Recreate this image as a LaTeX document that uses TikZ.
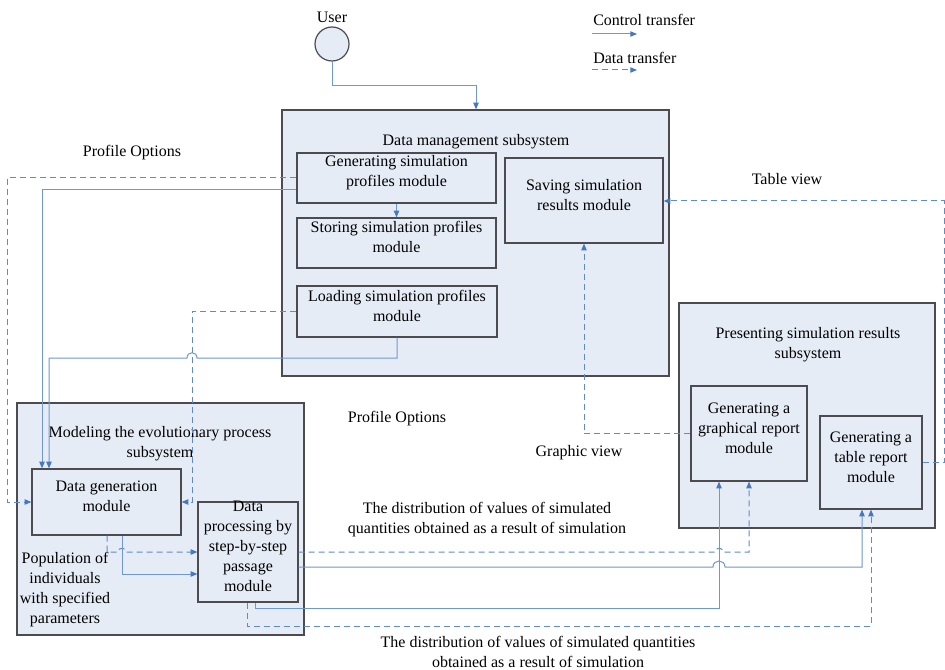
\documentclass[tikz,border=0pt]{standalone}
\usepackage{fontspec}
\setmainfont{Liberation Serif}
\usetikzlibrary{arrows.meta,fit,calc}
\definecolor{bfill}{RGB}{230,236,246}
\definecolor{bdraw}{RGB}{75,75,80}
\definecolor{lnc}{RGB}{112,152,208}
\definecolor{dsc}{RGB}{96,138,200}
\definecolor{tipc}{RGB}{70,120,190}
\begin{document}
\begin{tikzpicture}[x=0.75pt,y=-0.75pt,
  every node/.style={font=\fontsize{12}{15}\selectfont, text=black},
  box/.style={draw=bdraw, fill=bfill, line width=0.9pt, inner sep=0pt, align=center},
  lbl/.style={align=center, inner sep=0pt},
  ctl/.style={draw=lnc, line width=0.75pt, -{Triangle[length=5pt,width=4pt,color=tipc]}},
  dat/.style={draw=dsc, line width=0.75pt, dash pattern=on 4.5pt off 3pt, -{Triangle[length=5pt,width=4pt,color=tipc]}}
]
\useasboundingbox (0,0) rectangle (945,670);
\fill[white] (0,0) rectangle (945,670);

% subsystem boxes
\node[box, fit={(282,110) (669,376)}] (dm) {};
\node[box, fit={(17,403) (304,635)}] (mod) {};
\node[box, fit={(679,303) (935,528)}] (pres) {};

\node[lbl] (dmt) at (476,142) {Data management subsystem};
\node[lbl] (modt) at (160,443.5) {Modeling the evolutionary process\\subsystem};
\node[lbl] (prest) at (808,344.5) {Presenting simulation results\\subsystem};

% user
\node[circle, draw=bdraw, fill=bfill, line width=0.9pt, minimum size=25.5pt, inner sep=0pt] (usr) at (332,44) {};
\node[lbl] (usrt) at (332,17) {User};

% modules
\node[box, fit={(297,153) (496,203)}] (gn) {Generating simulation\\profiles module};
\node[box, fit={(297,218) (496,268)}] (st) {Storing simulation profiles\\module};
\node[box, fit={(297,286) (497,337)}] (ld) {Loading simulation profiles\\module};
\node[box, fit={(505,158) (663,243)}] (sv) {Saving simulation\\results module};
\node[box, fit={(32,469) (181,535)}] (dg) {Data generation\\module};
\node[box, fit={(198,502) (298,602)}] (dp) {Data\\processing by\\step-by-step\\passage\\module};
\node[box, fit={(691,386) (807,481)}] (gr) {Generating a\\graphical report\\module};
\node[box, fit={(820,416) (922,509)}] (tb) {Generating a\\table report\\module};

% labels
\node[lbl] (pop) at (65,590) {Population of\\individuals\\with specified\\parameters};
\node[lbl] (po1) at (132,153) {Profile Options};
\node[lbl] (po2) at (397,419) {Profile Options};
\node[lbl] (tv) at (787,179) {Table view};
\node[lbl] (gv) at (579,453) {Graphic view};
\node[lbl] (dist1) at (487,520) {The distribution of values of simulated\\quantities obtained as a result of simulation};
\node[lbl] (dist2) at (538,652) {The distribution of values of simulated quantities\\obtained as a result of simulation};

% legend
\node[lbl, anchor=base west] (lc) at (593,26) {Control transfer};
\node[lbl, anchor=base west] (ldt) at (593,64) {Data transfer};
\coordinate (c1s) at (592,34); \coordinate (c1e) at (637,34);
\coordinate (c2s) at (592,70); \coordinate (c2e) at (637,70);
\draw[ctl] (c1s) -- (c1e);
\draw[dat] (c2s) -- (c2e);

% connectors
\draw[ctl] (usr.south) -- (332,86) -- (476,86) -- (dm.north -| 476,0);
\draw[ctl] (gn.south) -- (st.north);
\draw[ctl] (gn.west |- 0,190) -- (42,190) -- (dg.north -| 42,0);
\draw[dat] (gn.west) -- (7,178) -- (7,502) -- (dg.west);
\draw[dat] (ld.west) -- (ld.west -| 192,0) -- (dg.east -| 192,0) -- (dg.east);
\draw[ctl] (ld.south) -- (397,358) -- (197,358) .. controls (197,351) and (187,351) .. (187,358) -- (49,358) -- (dg.north -| 49,0);

\draw[dat] (dg.south -| 107,0) -- (107,552) -- (118,552) .. controls (118,547) and (126,547) .. (126,552) -- (dp.west |- 0,552);
\draw[ctl] (dg.south -| 122,0) -- (122,574) -- (dp.west |- 0,574);

\draw[dat] (dp.east |- 0,552) -- (715,552) .. controls (715,547) and (723,547) .. (723,552) -- (749,552) -- (gr.south -| 749,0);
\draw[ctl] (dp.east |- 0,567) -- (713,567) .. controls (713,559) and (725,559) .. (725,567) -- (862,567) -- (tb.south -| 862,0);
\draw[ctl] (dp.south -| 255,0) -- (255,608) -- (719,608) -- (gr.south -| 719,0);
\draw[dat] (dp.south -| 247,0) -- (247,626) -- (871,626) -- (tb.south -| 871,0);

\draw[dat] (gr.west) -- (gr.west -| 584,0) -- (sv.south -| 584,0);
\draw[dat] (tb.east) -- (tb.east -| 944,0) -- (944,201) -- (sv.east |- 0,201);
\end{tikzpicture}
\end{document}
